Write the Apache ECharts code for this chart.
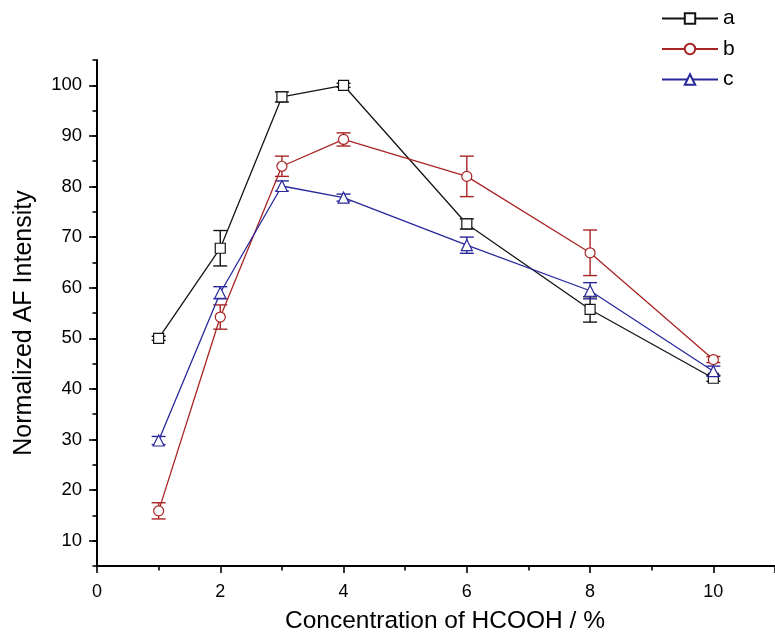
<!DOCTYPE html>
<html>
<head>
<meta charset="utf-8">
<script src="https://cdn.jsdelivr.net/npm/echarts@6/dist/echarts.min.js"></script>
<style>
  html, body { margin: 0; padding: 0; background: #ffffff; }
  #chart { width: 775px; height: 643px; }
</style>
</head>
<body>
<div id="chart"></div>
<script>
// Formic acid concentration (%) on the x axis
const concentrations = [1, 2, 3, 4, 6, 8, 10];

// Normalized AF intensity with standard deviations for each sample
const valuesA = [50.0, 67.8, 97.7, 100.0, 72.6, 55.7, 42.1];
const errorsA = [0.4, 3.5, 1.0, 0.4, 1.0, 2.5, 0.6];
const valuesB = [15.9, 54.2, 84.0, 89.3, 82.0, 66.9, 45.8];
const errorsB = [1.6, 2.4, 2.0, 1.3, 4.0, 4.5, 0.6];
const valuesC = [29.8, 59.0, 80.1, 77.8, 68.4, 59.4, 43.5];
const errorsC = [0.8, 1.2, 1.0, 0.7, 1.6, 1.6, 1.0];

const seriesNames = ['a', 'b', 'c'];
const yMajorTicks = [10, 20, 30, 40, 50, 60, 70, 80, 90, 100];

const FONT = "'Liberation Sans', Arial, sans-serif";
const colors = { a: '#141414', b: '#a82424', c: '#28289c' };

function lineSeries(name, values, symbol, size) {
  return {
    type: 'line',
    name: name,
    data: concentrations.map((x, i) => [x, values[i]]),
    symbol: symbol,
    symbolSize: size,
    z: 3,
    lineStyle: { color: colors[name], width: 1.3 },
    itemStyle: { color: '#ffffff', borderColor: colors[name], borderWidth: 1.2 },
    emphasis: { disabled: true },
    animation: false
  };
}

function errorBars(name, values, errors) {
  const color = colors[name];
  return {
    type: 'custom',
    name: name + '-sd',
    z: 2,
    silent: true,
    animation: false,
    data: concentrations.map((x, i) => [x, values[i] - errors[i], values[i] + errors[i]]),
    encode: { x: 0, y: [1, 2] },
    renderItem: function (params, api) {
      const x = api.value(0);
      const lo = api.coord([x, api.value(1)]);
      const hi = api.coord([x, api.value(2)]);
      const half = 7;
      const style = { stroke: color, lineWidth: 1.4, fill: null };
      return {
        type: 'group',
        children: [
          { type: 'line', shape: { x1: lo[0], y1: lo[1], x2: hi[0], y2: hi[1] }, style: style },
          { type: 'line', shape: { x1: lo[0] - half, y1: lo[1], x2: lo[0] + half, y2: lo[1] }, style: style },
          { type: 'line', shape: { x1: hi[0] - half, y1: hi[1], x2: hi[0] + half, y2: hi[1] }, style: style }
        ]
      };
    }
  };
}

const chart = echarts.init(document.getElementById('chart'), null, { renderer: 'canvas' });

const axisLineStyle = { color: '#000000', width: 2 };

chart.setOption({
  backgroundColor: '#ffffff',
  animation: false,
  textStyle: { fontFamily: FONT },
  grid: { left: 97, right: -4, top: 60, bottom: 77, containLabel: false },
  legend: {
    data: seriesNames,
    orient: 'vertical',
    left: 656,
    top: 3,
    itemWidth: 56,
    itemHeight: 13,
    itemGap: 9.5,
    selectedMode: false,
    textStyle: { fontFamily: FONT, fontSize: 21, color: '#000000' }
  },
  xAxis: {
    type: 'value',
    min: 0,
    max: 11,
    interval: 2,
    name: 'Concentration of HCOOH / %',
    nameLocation: 'middle',
    nameGap: 43,
    nameTextStyle: { fontFamily: FONT, fontSize: 24.5, color: '#000000', padding: [0, 0, 0, 18] },
    axisLine: { lineStyle: axisLineStyle },
    axisTick: { length: 7, lineStyle: { color: '#000000', width: 1.6 } },
    minorTick: { show: true, splitNumber: 2, length: 4.5, lineStyle: { color: '#000000', width: 1.6 } },
    axisLabel: { fontFamily: FONT, fontSize: 18, color: '#000000', margin: 17, showMaxLabel: false },
    splitLine: { show: false }
  },
  yAxis: [
    {
      type: 'value',
      min: 5,
      max: 105,
      interval: 5,
      position: 'left',
      name: 'Normalized AF Intensity',
      nameLocation: 'middle',
      nameGap: 60,
      nameTextStyle: { fontFamily: FONT, fontSize: 25, color: '#000000', padding: [0, 20, 0, 0] },
      axisLine: { show: true, lineStyle: axisLineStyle },
      axisTick: { length: 4.5, lineStyle: { color: '#000000', width: 1.6 } },
      axisLabel: {
        fontFamily: FONT, fontSize: 18.5, color: '#000000', margin: 15,
        formatter: v => (v % 10 === 0 ? String(v) : '')
      },
      splitLine: { show: false }
    },
    {
      type: 'value',
      min: 5,
      max: 105,
      interval: 5,
      position: 'left',
      axisLine: { show: false },
      axisTick: { length: 8, customValues: yMajorTicks, lineStyle: { color: '#000000', width: 1.6 } },
      axisLabel: { show: false },
      splitLine: { show: false }
    }
  ],
  series: [
    errorBars('a', valuesA, errorsA),
    errorBars('b', valuesB, errorsB),
    errorBars('c', valuesC, errorsC),
    lineSeries('a', valuesA, 'rect', 10),
    lineSeries('b', valuesB, 'circle', 10),
    lineSeries('c', valuesC, 'triangle', 11)
  ]
});
</script>
</body>
</html>
